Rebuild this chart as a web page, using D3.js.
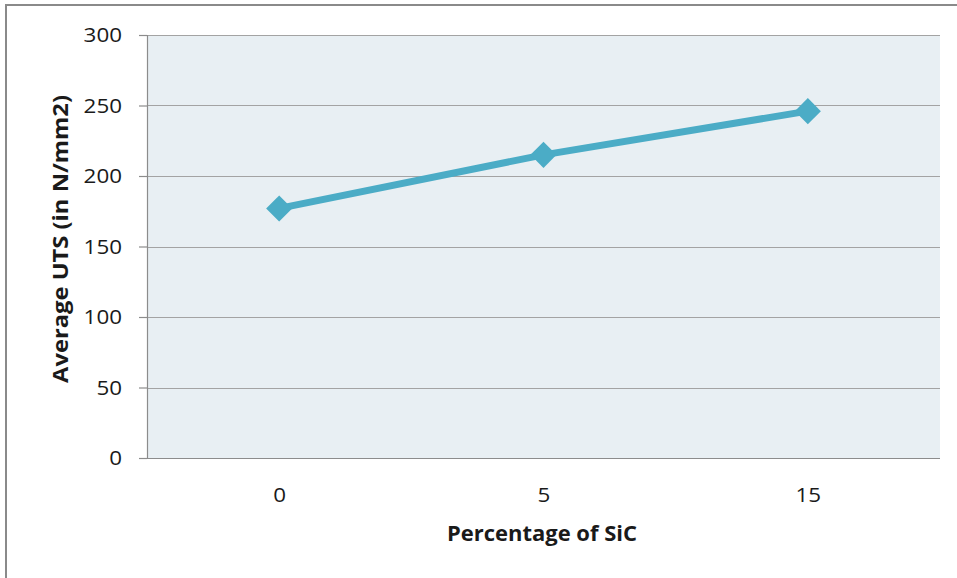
<!DOCTYPE html>
<html>
<head>
<meta charset="utf-8">
<script src="https://cdn.jsdelivr.net/npm/d3@7"></script>
<style>
  html, body { margin: 0; padding: 0; background: #fff; }
  svg { display: block; }
</style>
</head>
<body>
<svg id="chart" width="957" height="578"></svg>
<script>
const categories = ["0", "5", "15"];
const uts = [177, 215, 246];
const yTicks = [0, 50, 100, 150, 200, 250, 300];
const xTitle = "Percentage of SiC";
const yTitle = "Average UTS (in N/mm2)";

const W = 957, H = 578;
const plot = { left: 147, right: 940, top: 35, bottom: 458 };
const svg = d3.select("#chart");

// outer chart border
svg.append("rect")
  .attr("x", 6).attr("y", 5)
  .attr("width", 970).attr("height", 600)
  .attr("fill", "#fff").attr("stroke", "#8a8a8a").attr("stroke-width", 2);

const x = d3.scalePoint().domain(categories).range([plot.left, plot.right]).padding(0.5);
const y = d3.scaleLinear().domain([0, 300]).range([plot.bottom, plot.top]);

// plot area background
svg.append("rect")
  .attr("x", plot.left).attr("y", plot.top)
  .attr("width", plot.right - plot.left).attr("height", plot.bottom - plot.top)
  .attr("fill", "#E8EFF3");

// gridlines
svg.append("g").selectAll("line").data(yTicks.filter(d => d > 0)).join("line")
  .attr("x1", plot.left).attr("x2", plot.right)
  .attr("y1", d => Math.round(y(d)) + 0.5).attr("y2", d => Math.round(y(d)) + 0.5)
  .attr("stroke", "#a3a3a3").attr("stroke-width", 1.2);

// y axis
const yAxis = svg.append("g")
  .attr("transform", `translate(${plot.left},0)`)
  .call(d3.axisLeft(y).tickValues(yTicks).tickSize(8).tickPadding(17).tickFormat(d3.format("d")));
yAxis.select(".domain").attr("stroke", "#8c8c8c").attr("stroke-width", 1.2)
  .attr("d", `M0.5,${plot.top}V${plot.bottom}`);
yAxis.selectAll(".tick line").attr("stroke", "#8c8c8c").attr("stroke-width", 1.2);
yAxis.selectAll(".tick text")
  .attr("font-family", "Open Sans, sans-serif").attr("font-size", 20).attr("fill", "#1a1a1a")
  .attr("x", 0).attr("dy", "0.34em")
  .attr("transform", "translate(-25,0) scale(1.12,1)");

// x axis
const xAxis = svg.append("g")
  .attr("transform", `translate(0,${plot.bottom})`)
  .call(d3.axisBottom(x).tickSize(0).tickPadding(0));
xAxis.select(".domain").attr("stroke", "#8c8c8c").attr("stroke-width", 1.2)
  .attr("d", `M${plot.left},0.5H${plot.right}`);
xAxis.selectAll(".tick text")
  .attr("font-family", "Open Sans, sans-serif").attr("font-size", 20).attr("fill", "#1a1a1a")
  .attr("y", 0).attr("dy", "0.34em")
  .attr("transform", "translate(0,37) scale(1.12,1)");

// line
svg.append("path")
  .datum(uts)
  .attr("fill", "none").attr("stroke", "#4BACC6").attr("stroke-width", 7)
  .attr("stroke-linejoin", "round")
  .attr("d", d3.line().x((d, i) => x(categories[i])).y(d => y(d)));

// diamond markers
svg.append("g").selectAll("path").data(uts).join("path")
  .attr("d", d3.symbol(d3.symbolSquare, 340)())
  .attr("transform", (d, i) => `translate(${x(categories[i])},${y(d)}) rotate(45)`)
  .attr("fill", "#4BACC6");

// axis titles
svg.append("text")
  .attr("x", 542).attr("y", 533).attr("dy", "0.35em")
  .attr("text-anchor", "middle")
  .attr("font-family", "Open Sans, sans-serif").attr("font-weight", "bold").attr("font-size", 22)
  .attr("fill", "#1a1a1a")
  .attr("textLength", 190).attr("lengthAdjust", "spacingAndGlyphs")
  .text(xTitle);

svg.append("text")
  .attr("transform", "translate(60,239) rotate(-90)")
  .attr("dy", "0.35em")
  .attr("text-anchor", "middle")
  .attr("font-family", "Open Sans, sans-serif").attr("font-weight", "bold").attr("font-size", 22)
  .attr("fill", "#1a1a1a")
  .attr("textLength", 288).attr("lengthAdjust", "spacingAndGlyphs")
  .text(yTitle);
</script>
</body>
</html>
